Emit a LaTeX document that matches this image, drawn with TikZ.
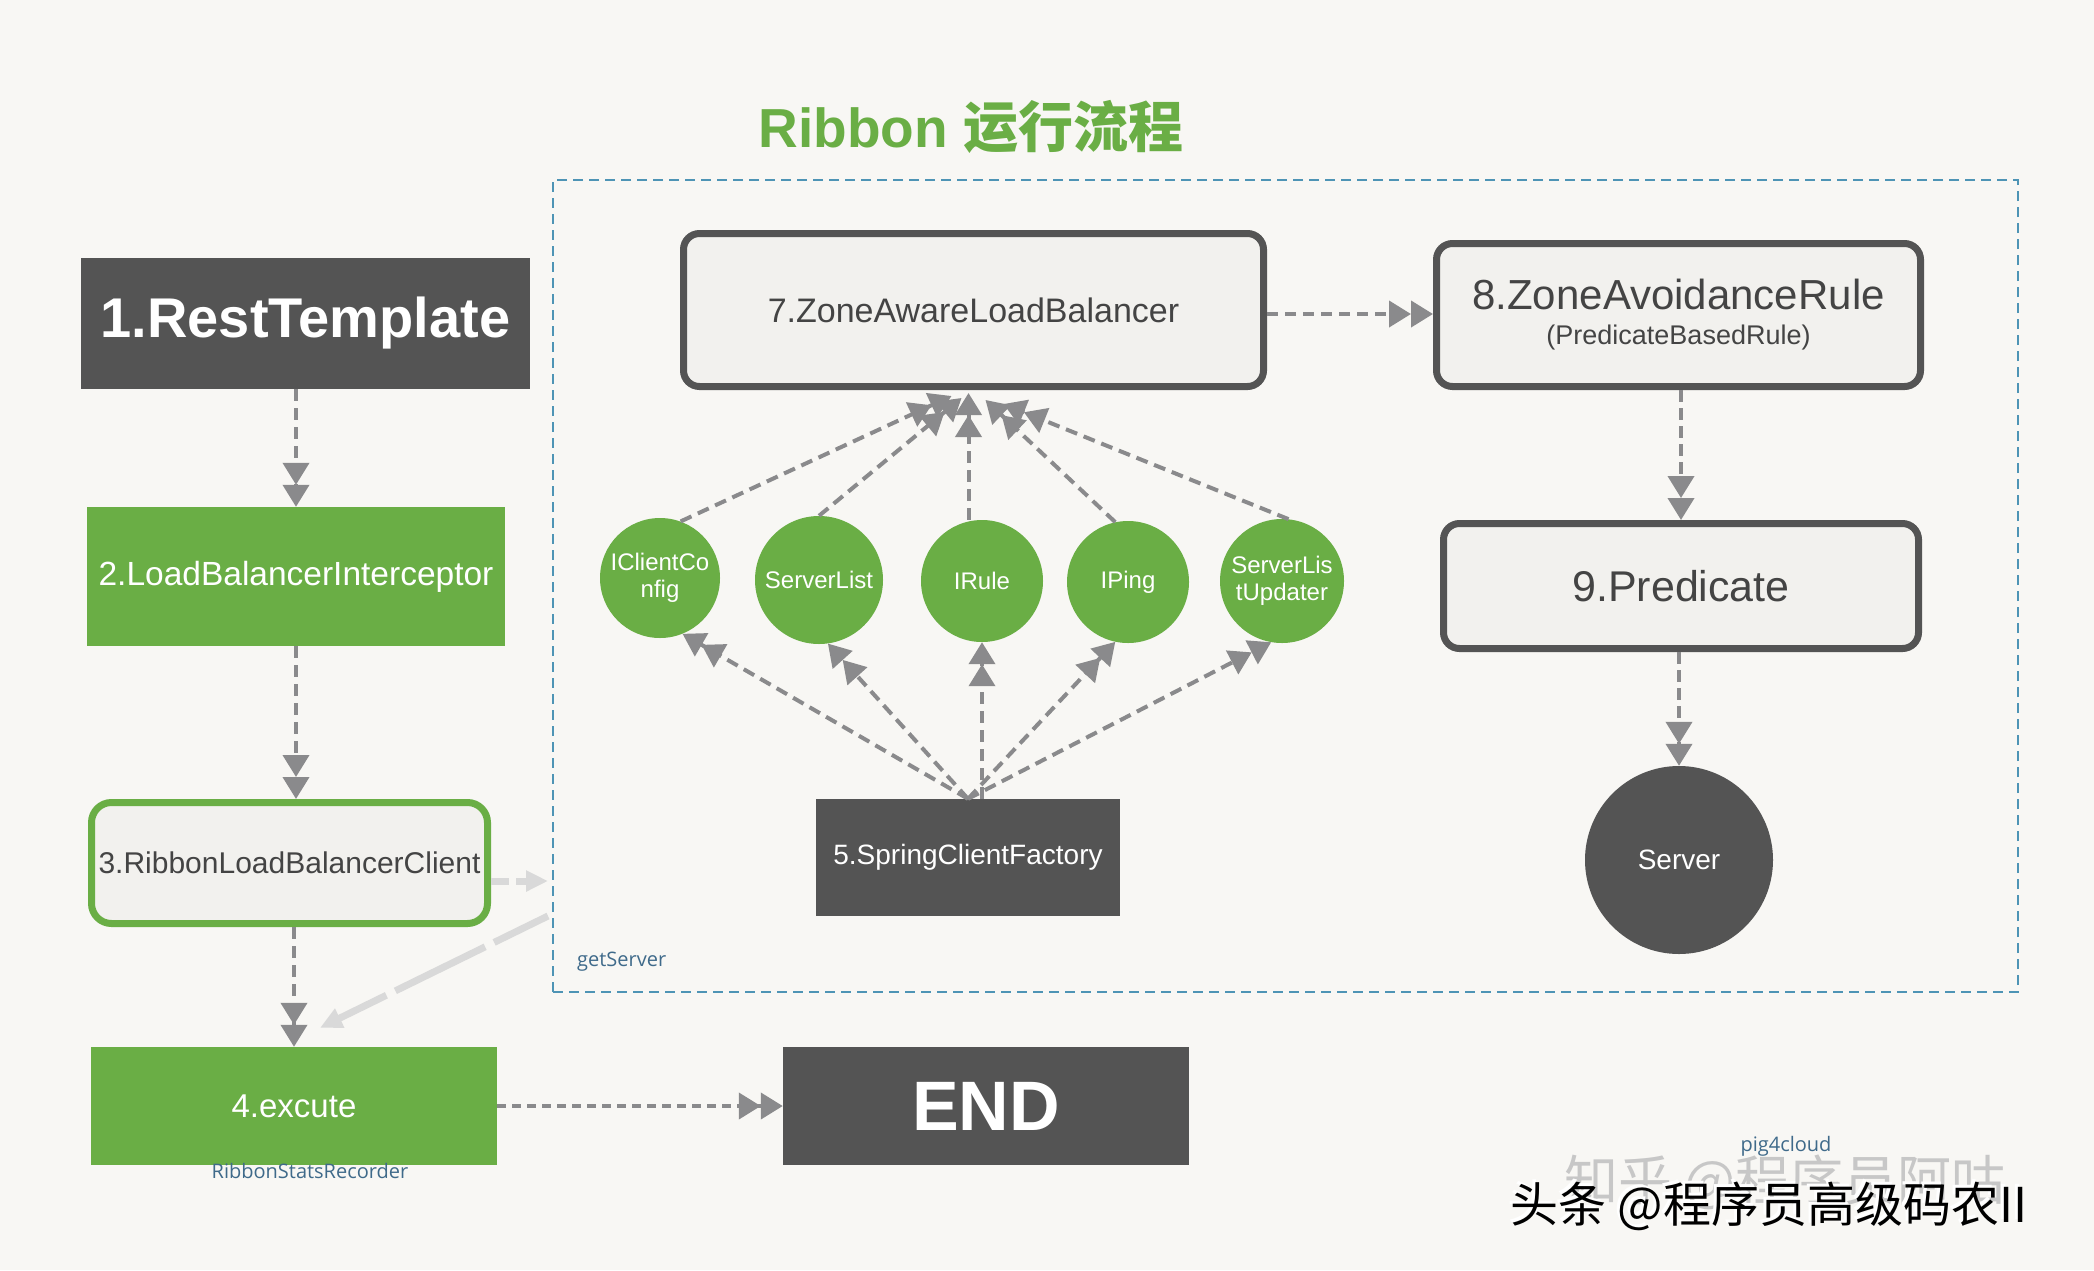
\documentclass[tikz,border=0pt]{standalone}
\usepackage{fontspec}
\setmainfont{Liberation Sans}
\newfontfamily\cjk{Noto Sans CJK SC}
\newfontfamily\lblfont{Open Sans}
\usetikzlibrary{arrows.meta,calc,shapes.geometric}
\definecolor{bgc}{HTML}{F8F7F4}
\definecolor{darkc}{HTML}{545454}
\definecolor{greenc}{HTML}{6AAE45}
\definecolor{lightc}{HTML}{F2F1EE}
\definecolor{txtc}{HTML}{444444}
\definecolor{arrc}{HTML}{8A8A8C}
\definecolor{boxc}{HTML}{4E94B5}
\definecolor{palec}{HTML}{D9D9D9}
\definecolor{lblc}{HTML}{3F6A8A}
\newcommand{\fsz}[1]{\fontsize{#1}{#1}\selectfont}
\tikzset{
  darkbox/.style={fill=darkc, text=white, inner sep=0pt},
  greenbox/.style={fill=greenc, text=white, inner sep=0pt},
  roundbox/.style={draw=darkc, line width=7pt, rounded corners=16pt, fill=lightc, text=txtc, inner sep=0pt, align=center},
  gcirc/.style={circle, fill=greenc, text=white, inner sep=0pt, align=center, font=\fsz{24}},
  dtip/.style={-{Triangle[length=22pt,width=26pt] Triangle[length=22pt,width=26pt]}},
  arr/.style={draw=arrc, line width=4pt, dash pattern=on 12pt off 7pt, dtip},
  palearr/.style={draw=palec, line width=7pt, -{Triangle[length=22pt,width=20pt]}},
  lbl/.style={text=lblc, font=\lblfont\fsz{20}, inner sep=0pt}
}
\begin{document}
\begin{tikzpicture}[x=1pt,y=-1pt]
\useasboundingbox (0,0) rectangle (2094,1270);
\fill[bgc] (0,0) rectangle (2094,1270);

% title
\node[text=greenc, font=\bfseries\fsz{55}, inner sep=0pt] (title) at (971,127) {Ribbon {\cjk 运行流程}};

% dashed frame
\node[draw=boxc, line width=2pt, dash pattern=on 10pt off 6pt, minimum width=1465pt, minimum height=812pt, inner sep=0pt] (box) at (1285.5,586) {};
\node[lbl, anchor=west] (gs) at (577,962) {getServer};

% left column
\node[darkbox, minimum width=449pt, minimum height=131pt, font=\bfseries\fsz{56}] (n1) at (305.5,323.5) {1.RestTemplate};
\node[greenbox, minimum width=418pt, minimum height=139pt, font=\fsz{33.5}] (n2) at (296,576.5) {2.LoadBalancerInterceptor};
\node[draw=greenc, line width=7pt, rounded corners=20pt, fill=lightc, text=txtc, inner sep=0pt, minimum width=396pt, minimum height=121pt, font=\fsz{30}] (n3) at (289.5,863) {3.RibbonLoadBalancerClient};
\node[greenbox, minimum width=406pt, minimum height=118pt, font=\fsz{33}] (n4) at (294,1106) {4.excute};
\node[lbl] (rsr) at (310,1171) {RibbonStatsRecorder};
\node[darkbox, minimum width=406pt, minimum height=118pt, font=\bfseries\fsz{70}] (end) at (986,1106) {END};

% inner
\node[roundbox, minimum width=580pt, minimum height=153pt, font=\fsz{34}] (n7) at (973.5,310) {7.ZoneAwareLoadBalancer};
\node[roundbox, minimum width=484pt, minimum height=143pt] (n8) at (1678.5,315) {{\fsz{42}8.ZoneAvoidanceRule}\\[14pt]{\fsz{27}(PredicateBasedRule)}};
\node[roundbox, minimum width=475pt, minimum height=125pt, font=\fsz{43}] (n9) at (1681,586) {9.Predicate};
\node[circle, fill=darkc, text=white, minimum size=188pt, inner sep=0pt, font=\fsz{28}] (srv) at (1679,860) {Server};

\node[gcirc, minimum size=120pt] (icc) at (660,578) {IClientCo\\[3pt]nfig};
\node[gcirc, minimum size=128pt] (sl) at (819,580) {ServerList};
\node[gcirc, minimum size=122pt] (irule) at (982,581) {IRule};
\node[gcirc, minimum size=122pt] (iping) at (1128,582) {IPing};
\node[gcirc, minimum size=124pt] (slu) at (1282,581) {ServerLis\\[3pt]tUpdater};

\node[darkbox, minimum width=304pt, minimum height=117pt, font=\fsz{28}] (n5) at (968,857.5) {5.SpringClientFactory};

% connectors left column
\draw[arr] (n2.north |- n1.south) -- (n2.north);
\draw[arr] (n2.south) -- (n2.south |- n3.north);
\draw[arr] (n4.north |- n3.south) -- (n4.north);
\draw[arr, dash pattern=on 9pt off 6pt] (n4.east) -- (end.west);

% pale arrows
\coordinate (gin) at ($(box.west)+(-4,295)$);
\coordinate (gout) at ($(box.west)+(-4,330)$);
\coordinate (e4) at ($(n4.north)+(26,-19)$);
\draw[palearr, dash pattern=on 18pt off 7pt] (n3.east |- gin) -- (gin);
\draw[palearr, dash pattern=on 60pt off 10pt on 100pt off 10pt] (gout) -- (e4);

% right column
\draw[arr, dash pattern=on 11pt off 7pt] (n7.east |- 0,314) -- (n8.west |- 0,314);
\draw[arr, dash pattern=on 12pt off 6pt] (n8.south -| n9.north) -- (n9.north);
\draw[arr, dash pattern=on 12pt off 6pt] (n9.south -| srv.north) -- (srv.north);

% circles to 7
\coordinate (t1) at ($(n7.south)+(-22,6)$);
\coordinate (t2) at ($(n7.south)+(-12,8)$);
\coordinate (t3) at ($(n7.south)+(-5,3)$);
\coordinate (t4) at ($(n7.south)+(12,10)$);
\coordinate (t5) at ($(n7.south)+(30,14)$);
\draw[arr] (icc.70) -- (t1);
\draw[arr] (sl.north) -- (t2);
\draw[arr] (irule.north -| t3) -- (t3);
\draw[arr] (iping.102) -- (t4);
\draw[arr] (slu.84) -- (t5);

% 5 to circles
\draw[arr] (n5.north) -- (icc.-68);
\draw[arr] (n5.north) -- (sl.-82);
\draw[arr] (n5.north -| irule.south) -- (irule.south);
\draw[arr] (n5.north) -- (iping.-102);
\draw[arr] (n5.north) -- (slu.-100);

% labels / watermarks
\node[lbl] (pig) at (1786,1146) {pig4cloud};
\node[text=black!22, font=\cjk\fsz{54}, inner sep=0pt] (wm1) at (1785,1182) {知乎 @程序员阿咕};
\node[text=white, font=\cjk\fsz{48}, inner sep=0pt] (wm2s) at (1766,1203) {头条 @程序员高级码农II};
\node[text=black, font=\cjk\fsz{48}, inner sep=0pt] (wm2) at (1769,1206) {头条 @程序员高级码农II};
\end{tikzpicture}
\end{document}
